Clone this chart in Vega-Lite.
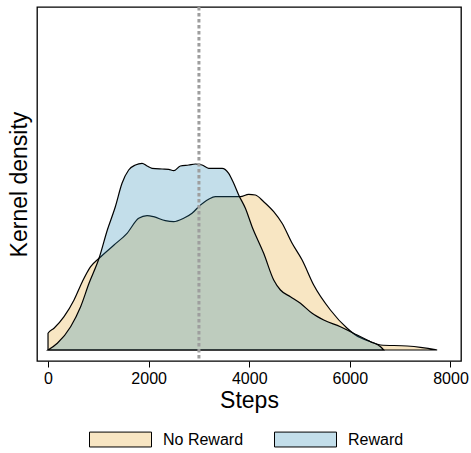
{
  "$schema": "https://vega.github.io/schema/vega-lite/v6.json",
  "width": 424,
  "height": 354,
  "autosize": {"type": "none"},
  "padding": {"left": 37, "top": 7, "right": 10, "bottom": 92},
  "background": "white",
  "config": {
    "font": "Liberation Sans",
    "view": {"stroke": "black", "strokeWidth": 1.3},
    "axis": {"labelColor": "black", "titleColor": "black", "titleFontWeight": "normal", "grid": false}
  },
  "datasets": {
    "kde": [
      {"group": "No Reward", "steps": 0, "density": 0},
      {"group": "No Reward", "steps": 0, "density": 16.7},
      {"group": "No Reward", "steps": 119, "density": 21.7},
      {"group": "No Reward", "steps": 318, "density": 33.3},
      {"group": "No Reward", "steps": 517, "density": 50},
      {"group": "No Reward", "steps": 682, "density": 68.3},
      {"group": "No Reward", "steps": 847, "density": 83.3},
      {"group": "No Reward", "steps": 1014, "density": 91.7},
      {"group": "No Reward", "steps": 1312, "density": 105},
      {"group": "No Reward", "steps": 1571, "density": 116.7},
      {"group": "No Reward", "steps": 1802, "density": 131.7},
      {"group": "No Reward", "steps": 1969, "density": 134.3},
      {"group": "No Reward", "steps": 2100, "density": 133.3},
      {"group": "No Reward", "steps": 2332, "density": 129.3},
      {"group": "No Reward", "steps": 2498, "density": 128.3},
      {"group": "No Reward", "steps": 2696, "density": 131.7},
      {"group": "No Reward", "steps": 2863, "density": 136.7},
      {"group": "No Reward", "steps": 2995, "density": 143.3},
      {"group": "No Reward", "steps": 3193, "density": 150.7},
      {"group": "No Reward", "steps": 3327, "density": 153.3},
      {"group": "No Reward", "steps": 3591, "density": 153.3},
      {"group": "No Reward", "steps": 3824, "density": 153.3},
      {"group": "No Reward", "steps": 3989, "density": 155.7},
      {"group": "No Reward", "steps": 4122, "density": 155},
      {"group": "No Reward", "steps": 4287, "density": 148.3},
      {"group": "No Reward", "steps": 4486, "density": 138.3},
      {"group": "No Reward", "steps": 4653, "density": 126.7},
      {"group": "No Reward", "steps": 4852, "density": 106.7},
      {"group": "No Reward", "steps": 5051, "density": 90},
      {"group": "No Reward", "steps": 5281, "density": 65},
      {"group": "No Reward", "steps": 5613, "density": 40},
      {"group": "No Reward", "steps": 5946, "density": 21.7},
      {"group": "No Reward", "steps": 6111, "density": 15},
      {"group": "No Reward", "steps": 6411, "density": 8.3},
      {"group": "No Reward", "steps": 6610, "density": 5},
      {"group": "No Reward", "steps": 7139, "density": 4},
      {"group": "No Reward", "steps": 7403, "density": 2.7},
      {"group": "No Reward", "steps": 7668, "density": 0.7},
      {"group": "No Reward", "steps": 7735, "density": 0},
      {"group": "Reward", "steps": 0, "density": 0},
      {"group": "Reward", "steps": 185, "density": 6.7},
      {"group": "Reward", "steps": 449, "density": 23.3},
      {"group": "Reward", "steps": 648, "density": 43.3},
      {"group": "Reward", "steps": 815, "density": 66.7},
      {"group": "Reward", "steps": 1014, "density": 91.7},
      {"group": "Reward", "steps": 1179, "density": 120},
      {"group": "Reward", "steps": 1338, "density": 143.3},
      {"group": "Reward", "steps": 1471, "density": 166.7},
      {"group": "Reward", "steps": 1603, "density": 180},
      {"group": "Reward", "steps": 1737, "density": 185},
      {"group": "Reward", "steps": 1869, "density": 186.7},
      {"group": "Reward", "steps": 1969, "density": 184},
      {"group": "Reward", "steps": 2068, "density": 181.7},
      {"group": "Reward", "steps": 2267, "density": 181},
      {"group": "Reward", "steps": 2398, "density": 180.7},
      {"group": "Reward", "steps": 2498, "density": 179.3},
      {"group": "Reward", "steps": 2631, "density": 184},
      {"group": "Reward", "steps": 2796, "density": 185},
      {"group": "Reward", "steps": 2929, "density": 186},
      {"group": "Reward", "steps": 3062, "density": 185},
      {"group": "Reward", "steps": 3193, "density": 181.7},
      {"group": "Reward", "steps": 3460, "density": 181.7},
      {"group": "Reward", "steps": 3591, "density": 176.7},
      {"group": "Reward", "steps": 3691, "density": 166.7},
      {"group": "Reward", "steps": 3790, "density": 155},
      {"group": "Reward", "steps": 3923, "density": 141.7},
      {"group": "Reward", "steps": 4056, "density": 123.3},
      {"group": "Reward", "steps": 4287, "density": 96.7},
      {"group": "Reward", "steps": 4486, "density": 70},
      {"group": "Reward", "steps": 4620, "density": 60},
      {"group": "Reward", "steps": 4818, "density": 53.3},
      {"group": "Reward", "steps": 5017, "density": 46.7},
      {"group": "Reward", "steps": 5250, "density": 36.7},
      {"group": "Reward", "steps": 5480, "density": 30},
      {"group": "Reward", "steps": 5812, "density": 23.3},
      {"group": "Reward", "steps": 6144, "density": 15},
      {"group": "Reward", "steps": 6411, "density": 8.3},
      {"group": "Reward", "steps": 6610, "density": 3.3},
      {"group": "Reward", "steps": 6673, "density": 0}
    ],
    "ref": [{"steps": 3000}]
  },
  "layer": [
    {
      "data": {"name": "kde"},
      "transform": [{"filter": "datum.group === 'No Reward'"}],
      "mark": {"type": "area", "stroke": "black", "strokeWidth": 1.2, "fillOpacity": 1, "interpolate": "monotone"},
      "encoding": {
        "x": {
          "field": "steps", "type": "quantitative",
          "scale": {"domain": [-219, 8209], "nice": false, "zero": false},
          "axis": {
            "title": "Steps", "values": [0, 2000, 4000, 6000, 8000], "format": "d",
            "domain": false, "ticks": true, "tickColor": "black", "tickSize": 6, "tickWidth": 1,
            "labelFontSize": 16, "labelPadding": 3, "titleFontSize": 23, "titlePadding": 3
          }
        },
        "y": {
          "field": "density", "type": "quantitative",
          "scale": {"domain": [-11, 343], "nice": false, "zero": false},
          "axis": {
            "title": "Kernel density", "labels": false, "ticks": false, "domain": false,
            "titleFontSize": 23, "titlePadding": 6
          }
        },
        "y2": {"datum": 0},
        "color": {
          "field": "group", "type": "nominal",
          "scale": {"domain": ["No Reward", "Reward"], "range": ["#F8E6C3", "#C3DEEA"]},
          "legend": {
            "title": null, "orient": "none", "direction": "horizontal",
            "legendX": 52, "legendY": 401, "padding": 0,
            "symbolType": "M-1,-0.24H1V0.24H-1Z", "symbolSize": 3844,
            "symbolStrokeColor": "black", "symbolStrokeWidth": 1, "symbolOpacity": 1,
            "labelFontSize": 16, "labelColor": "black", "labelOffset": 11, "columnPadding": 28
          }
        }
      }
    },
    {
      "data": {"name": "kde"},
      "transform": [{"filter": "datum.group === 'Reward'"}],
      "mark": {"type": "area", "fill": "#2989B4", "fillOpacity": 0.28, "stroke": "black", "strokeWidth": 1.2, "interpolate": "monotone"},
      "encoding": {
        "x": {"field": "steps", "type": "quantitative"},
        "y": {"field": "density", "type": "quantitative"},
        "y2": {"datum": 0}
      }
    },
    {
      "data": {"name": "ref"},
      "mark": {"type": "rule", "color": "#9E9E9E", "strokeWidth": 3, "strokeDash": [3.5, 2.5]},
      "encoding": {"x": {"field": "steps", "type": "quantitative"}}
    }
  ]
}
